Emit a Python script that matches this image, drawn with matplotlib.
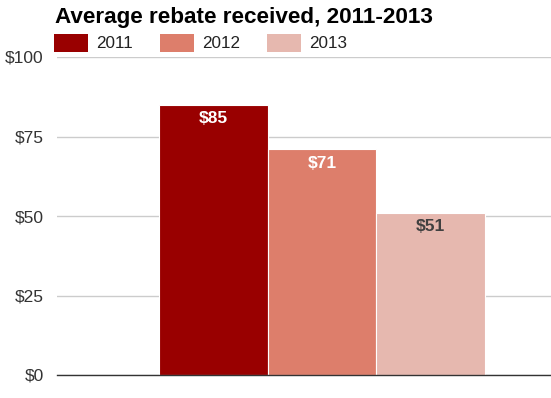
import matplotlib
matplotlib.use("Agg")
import matplotlib.pyplot as plt
from matplotlib.patches import Rectangle

years = ["2011", "2012", "2013"]
values = [85, 71, 51]
labels = ["$85", "$71", "$51"]
colors = ["#990000", "#DD7E6B", "#E6B8AF"]
label_colors = ["#ffffff", "#ffffff", "#404040"]
yticks = [0, 25, 50, 75, 100]
ytick_labels = ["$0", "$25", "$50", "$75", "$100"]

plt.rcParams['font.family'] = ['Liberation Sans', 'DejaVu Sans']

W, H = 551, 398
fig = plt.figure(figsize=(W/100, H/100), dpi=100)
ax = fig.add_axes([57/W, 1-375/H, (W-57)/W, (375-57)/H])

xs = list(range(len(values)))
bars = ax.bar(xs, values, width=1.0, color=colors, edgecolor="white", linewidth=0.8, zorder=3)
for x, v, lab, lc in zip(xs, values, labels, label_colors):
    ax.annotate(lab, xy=(x, v), xytext=(0, -10), textcoords="offset points",
                ha="center", va="center", color=lc, fontsize=12.5, fontweight="bold", zorder=4)

ax.set_xlim(-1.438, 3.107)
ax.set_ylim(0, 100)
ax.set_yticks(yticks)
ax.set_yticklabels(ytick_labels, fontsize=12.5, color="#333333")
ax.tick_params(axis="y", length=0, pad=9.5)
ax.set_xticks([])
ax.grid(axis="y", color="#cccccc", linewidth=1, zorder=0)
for s in ["top", "right", "left"]:
    ax.spines[s].set_visible(False)
ax.spines["bottom"].set_color("#333333")
ax.spines["bottom"].set_linewidth(1)
ax.spines["bottom"].set_zorder(5)

fig.text(55/W, 1-17/H, "Average rebate received, 2011-2013", fontsize=16.2, fontweight="bold",
         ha="left", va="center", color="#000000")

# legend
sw_x = [54, 160, 267]
for sx, c, y in zip(sw_x, colors, years):
    fig.patches.append(Rectangle((sx/W, 1-52/H), 34/W, 18/H, transform=fig.transFigure,
                                 facecolor=c, edgecolor="none"))
    fig.text((sx+42)/W, 1-43/H, y, fontsize=12.3, ha="left", va="center", color="#222222")

fig.savefig("out.png", dpi=100)
